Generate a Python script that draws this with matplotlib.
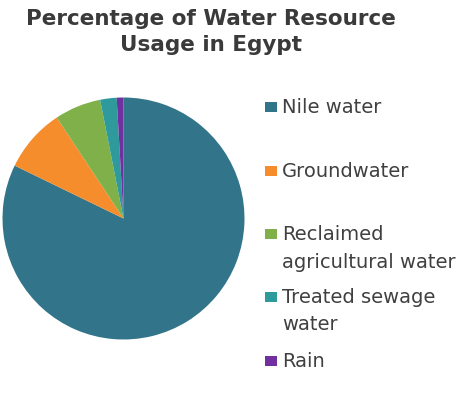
import matplotlib
matplotlib.use("Agg")
import matplotlib.pyplot as plt
from matplotlib.patches import Rectangle

# ---- data ----
categories = ["Nile water", "Groundwater", "Reclaimed\nagricultural water",
              "Treated sewage\nwater", "Rain"]
shares = [82.2, 8.5, 6.2, 2.2, 0.9]
colors = ["#32758A", "#F58D2C", "#7FB04A", "#2E9A9C", "#7030A0"]
title_lines = ["Percentage of Water Resource", "Usage in Egypt"]

W, H = 475, 402
fig = plt.figure(figsize=(W / 100, H / 100), dpi=100)
fig.patch.set_facecolor("white")


def fx(x):
    return x / W


def fy(y):
    return 1 - y / H


# ---- pie ----
cx, cy, r = 123.5, 219.5, 121
ax = fig.add_axes([fx(cx - r), fy(cy + r), 2 * r / W, 2 * r / H])
ax.pie(shares, colors=colors, startangle=90, counterclock=False,
       wedgeprops=dict(linewidth=0))
ax.set_xlim(-1, 1)
ax.set_ylim(-1, 1)
ax.set_aspect("auto")
ax.axis("off")

# ---- title ----
title_color = "#3A3A3A"
for line, base in zip(title_lines, [25, 50.7]):
    fig.text(fx(211), fy(base), line, ha="center", va="baseline",
             fontsize=15.5, fontweight="bold", color=title_color,
             family="DejaVu Sans")

# ---- legend ----
text_color = "#404040"
baselines = [113, 176.7, 240, 302.7, 367]
line_gap = 27.5
for cat, col, base in zip(categories, colors, baselines):
    fig.patches.append(Rectangle((fx(265), fy(base)), 12 / W, 10 / H,
                                 transform=fig.transFigure, facecolor=col,
                                 edgecolor="none"))
    for i, part in enumerate(cat.split("\n")):
        fig.text(fx(282), fy(base + i * line_gap), part, ha="left",
                 va="baseline", fontsize=14, color=text_color,
                 family="DejaVu Sans")

fig.savefig("out.png", dpi=100, facecolor="white")
